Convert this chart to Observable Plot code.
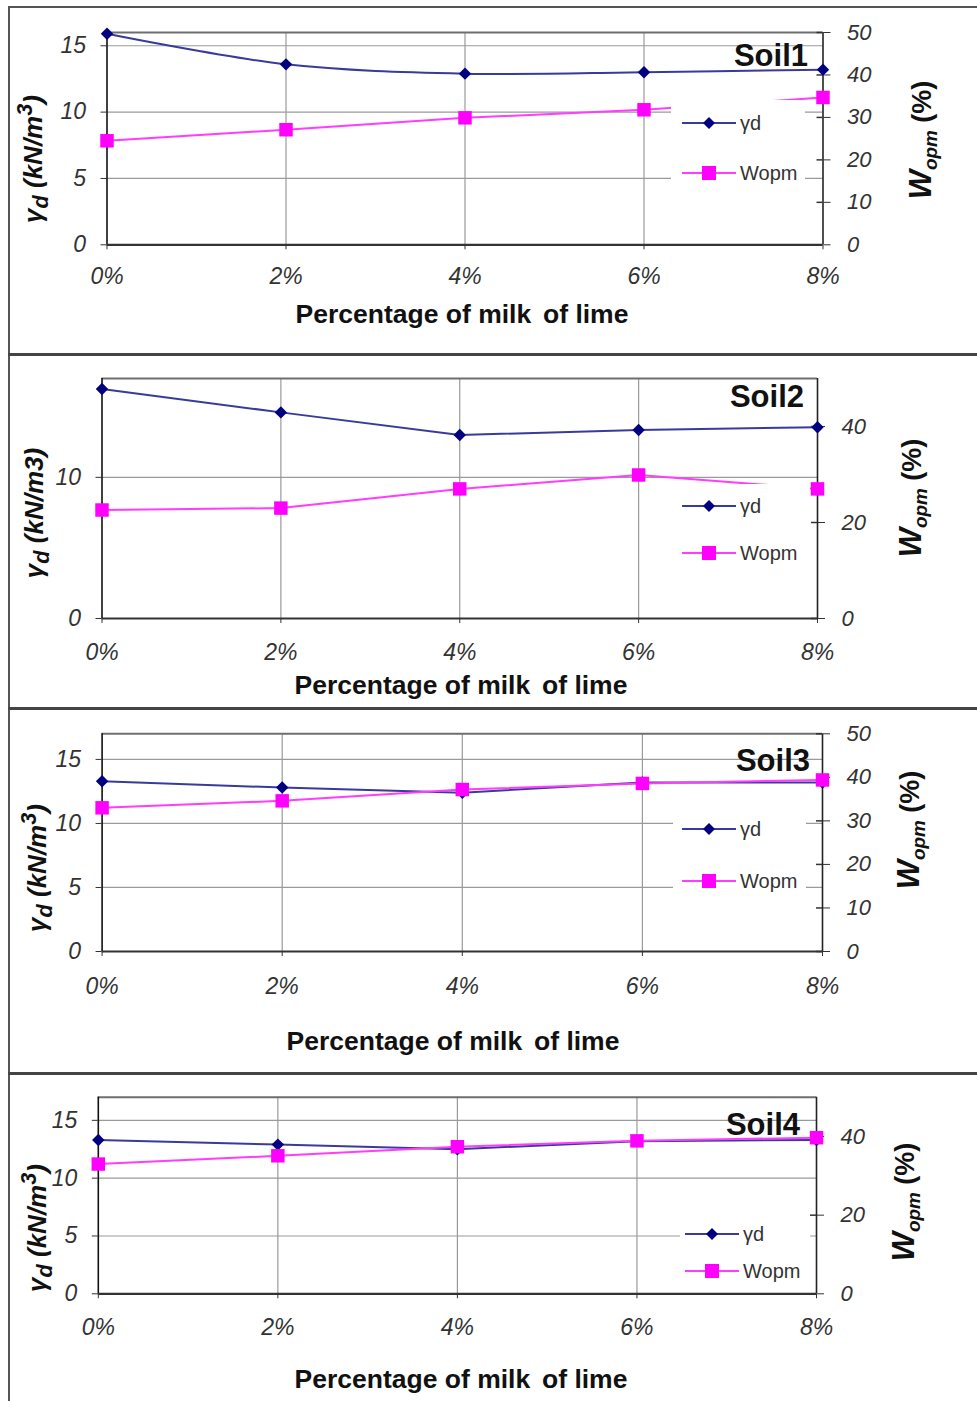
<!DOCTYPE html>
<html><head><meta charset="utf-8">
<script src="https://cdn.jsdelivr.net/npm/d3@7"></script>
<script src="https://cdn.jsdelivr.net/npm/@observablehq/plot@0.6"></script>
<style>
body{margin:0;background:#fff;}
#page{position:relative;width:977px;height:1401px;overflow:hidden;background:#fff;font-family:"Liberation Sans",Arial,sans-serif;}
.abs{position:absolute;white-space:nowrap;line-height:1;}
.c{transform:translate(-50%,-50%);}
.rot{transform:translate(-50%,-50%) rotate(-90deg);}
.bar{position:absolute;background:#4a4a4a;}
.legend{position:absolute;background:#fff;}
.svgwrap{position:absolute;left:0;}
</style></head><body><div id="page"></div>
<script>
// ---- data ----
const pct = [0, 2, 4, 6, 8];
const soilNames = ["Soil1", "Soil2", "Soil3", "Soil4"];
const soil1Yd = [15.9, 13.6, 12.9, 13.0, 13.2];
const soil1Wopm = [24.5, 27.1, 29.9, 31.8, 34.7];
const soil2Yd = [16.25, 14.6, 13.0, 13.35, 13.55];
const soil2Wopm = [22.6, 23.0, 27.0, 29.9, 27.0];
const soil3Yd = [13.3, 12.8, 12.4, 13.2, 13.2];
const soil3Wopm = [33.0, 34.6, 37.2, 38.6, 39.4];
const soil4Yd = [13.3, 12.9, 12.5, 13.2, 13.3];
const soil4Wopm = [33.0, 35.1, 37.4, 38.9, 39.7];
const ydTicks = [[0, 5, 10, 15], [0, 10], [0, 5, 10, 15], [0, 5, 10, 15]];
const wopmTicks = [[0, 10, 20, 30, 40, 50], [0, 20, 40], [0, 10, 20, 30, 40, 50], [0, 20, 40]];
const ydMax = [16, 17, 17, 17];
const wopmMax = 50;
const xTitle = "Percentage of milk&#8202;&#8202; of lime";
const ydTitles = ['γ<sub>d</sub> (kN/m<sup>3</sup>)', 'γ<sub>d</sub> (kN/m3)', 'γ<sub>d</sub> (kN/m<sup>3</sup>)', 'γ<sub>d</sub> (kN/m<sup>3</sup>)'];
const wTitle = '<span style="font-style:italic;font-size:1.15em">W</span><sub style="font-style:italic;font-size:0.7em">opm</sub> (%)';
const legendLabels = ["γd", "Wopm"];

// ---- layout (positions / styles) ----
const layout = [
  {top: 0, height: 354, mT: 32, mB: 109.7, mL: 106.5, mR: 154.5, xPad: 18, curve: "catmull-rom",
   title: [808, 55], ytitle: [33, 159], wtitle: [923, 140], xtitleP: [462, 314],
   legend: {x: 671, y: 100, w: 134, h: 104, r1: 122, r2: 172, lx: 682}},
  {top: 356, height: 352, mT: 22, mB: 90, mL: 101.5, mR: 160, xPad: 20, curve: "linear",
   title: [804, 396], ytitle: [37, 513], wtitle: [913, 498], xtitleP: [461, 685],
   legend: {x: 676, y: 484, w: 134, h: 92, r1: 505, r2: 552, lx: 682}},
  {top: 710, height: 363, mT: 23.3, mB: 122, mL: 101.6, mR: 155, xPad: 21, curve: "linear",
   title: [810, 760], ytitle: [37, 868], wtitle: [911, 830], xtitleP: [453, 1041],
   legend: {x: 673, y: 808, w: 133, h: 95, r1: 828, r2: 880, lx: 682}},
  {top: 1075, height: 326, mT: 21.7, mB: 107.7, mL: 97.8, mR: 161, xPad: 20, curve: "linear",
   title: [800, 1124], ytitle: [37, 1228], wtitle: [906, 1202], xtitleP: [461, 1379],
   legend: {x: 680, y: 1212, w: 130, h: 76, r1: 1233, r2: 1270, lx: 685}}
];
const ydSeries = [soil1Yd, soil2Yd, soil3Yd, soil4Yd];
const wSeries = [soil1Wopm, soil2Wopm, soil3Wopm, soil4Wopm];

const page = document.getElementById("page");
const FONT = '"Liberation Sans", Arial, sans-serif';

function addEl(html, cls, x, y, style) {
  const d = document.createElement("div");
  d.className = "abs " + cls;
  d.style.left = x + "px";
  d.style.top = y + "px";
  Object.assign(d.style, style || {});
  d.innerHTML = html;
  page.appendChild(d);
  return d;
}

layout.forEach((L, i) => {
  const k = ydMax[i] / wopmMax;
  const rows = pct.map((p, j) => ({pct: p, yd: ydSeries[i][j], w: wSeries[i][j]}));
  const gridY = ydTicks[i].filter(t => t > 0);
  const wT = wopmTicks[i].map(t => t * k);
  const chart = Plot.plot({
    width: 977, height: L.height,
    marginTop: L.mT, marginBottom: L.mB, marginLeft: L.mL, marginRight: L.mR,
    x: {type: "linear", domain: [0, 8]},
    y: {type: "linear", domain: [0, ydMax[i]]},
    style: {fontFamily: FONT, background: "transparent", overflow: "visible"},
    marks: [
      Plot.ruleY(gridY, {stroke: "#9a9a9a", strokeWidth: 1.2}),
      Plot.ruleX(pct.filter(p => p > 0 && p < 8), {stroke: "#9a9a9a", strokeWidth: 1.2}),
      Plot.ruleY([ydMax[i]], {stroke: "#6e6e6e", strokeWidth: 2}),
      Plot.ruleX([0], {stroke: "#111", strokeWidth: 1.6}),
      Plot.ruleX([8], {stroke: "#222", strokeWidth: 1.6}),
      Plot.ruleY([0], {stroke: "#333", strokeWidth: 2.2}),
      Plot.axisX({ticks: pct, tickFormat: d => d + "%", tickSize: 5, tickPadding: L.xPad,
        fontSize: 23, fontStyle: "italic", color: "#333", label: null}),
      Plot.axisY({anchor: "left", ticks: ydTicks[i], tickSize: 6, tickPadding: 15,
        fontSize: 23, fontStyle: "italic", color: "#333", label: null}),
      Plot.axisY({anchor: "right", ticks: wT, tickFormat: d => String(Math.round(d / k)),
        tickSize: 7, tickPadding: 17, fontSize: 22, fontStyle: "italic", color: "#333", label: null}),
      Plot.ruleY(wT, {y: d => d, x1: 8, x2: 8, insetLeft: -6, stroke: "#333", strokeWidth: 1.5}),
      Plot.line(rows, {x: "pct", y: "yd", stroke: "#3a3a9c", strokeWidth: 2, curve: L.curve}),
      Plot.line(rows, {x: "pct", y: d => d.w * k, stroke: "#ff3cff", strokeWidth: 2}),
      Plot.dot(rows, {x: "pct", y: "yd", symbol: "diamond2", r: 5.6, fill: "#000080", stroke: "none"}),
      Plot.dot(rows, {x: "pct", y: d => d.w * k, symbol: "square", r: 7.6, fill: "#ff00ff", stroke: "none"})
    ]
  });
  const wrap = document.createElement("div");
  wrap.className = "svgwrap";
  wrap.style.top = L.top + "px";
  wrap.appendChild(chart);
  page.appendChild(wrap);

  // legend box covering the plot like the original
  const lg = L.legend;
  const box = document.createElement("div");
  box.className = "legend";
  Object.assign(box.style, {left: lg.x + "px", top: lg.y + "px", width: lg.w + "px", height: lg.h + "px"});
  page.appendChild(box);
  const sw1 = `<svg width="56" height="20" style="vertical-align:middle"><line x1="0" y1="10" x2="54" y2="10" stroke="#3a3a9c" stroke-width="2"/><path d="M27 4 L33 10 L27 16 L21 10 Z" fill="#000080"/></svg>`;
  const sw2 = `<svg width="56" height="20" style="vertical-align:middle"><line x1="0" y1="10" x2="54" y2="10" stroke="#ff3cff" stroke-width="2"/><rect x="20" y="3" width="14" height="14" fill="#ff00ff"/></svg>`;
  addEl(sw1 + `<span style="margin-left:2px;vertical-align:middle">${legendLabels[0]}</span>`, "", lg.lx, lg.r1 - 10, {fontSize: "20px", color: "#333", transform: "translateY(-1px)"});
  addEl(sw2 + `<span style="margin-left:2px;vertical-align:middle">${legendLabels[1]}</span>`, "", lg.lx, lg.r2 - 10, {fontSize: "20px", color: "#333", transform: "translateY(-1px)"});

  // panel title
  addEl(soilNames[i], "", L.title[0], L.title[1], {fontSize: "31px", fontWeight: "bold", color: "#111", transform: "translate(-100%,-50%)"});
  // axis titles
  addEl(ydTitles[i], "rot", L.ytitle[0], L.ytitle[1], {fontSize: "26px", fontWeight: "bold", fontStyle: "italic", color: "#111"});
  addEl(wTitle, "rot", L.wtitle[0], L.wtitle[1], {fontSize: "27px", fontWeight: "bold", color: "#111"});
  addEl(xTitle, "c", L.xtitleP[0], L.xtitleP[1], {fontSize: "26.5px", fontWeight: "bold", color: "#111"});
});

// panel frame lines
function bar(x, y, w, h, c) {
  const d = document.createElement("div");
  d.className = "bar";
  Object.assign(d.style, {left: x + "px", top: y + "px", width: w + "px", height: h + "px", background: c});
  page.appendChild(d);
}
bar(8, 6, 969, 1.5, "#555");
bar(8, 6, 1.5, 1395, "#555");
bar(8, 353, 969, 3, "#444");
bar(8, 707, 969, 3, "#444");
bar(8, 1072, 969, 3, "#444");
</script></body></html>
